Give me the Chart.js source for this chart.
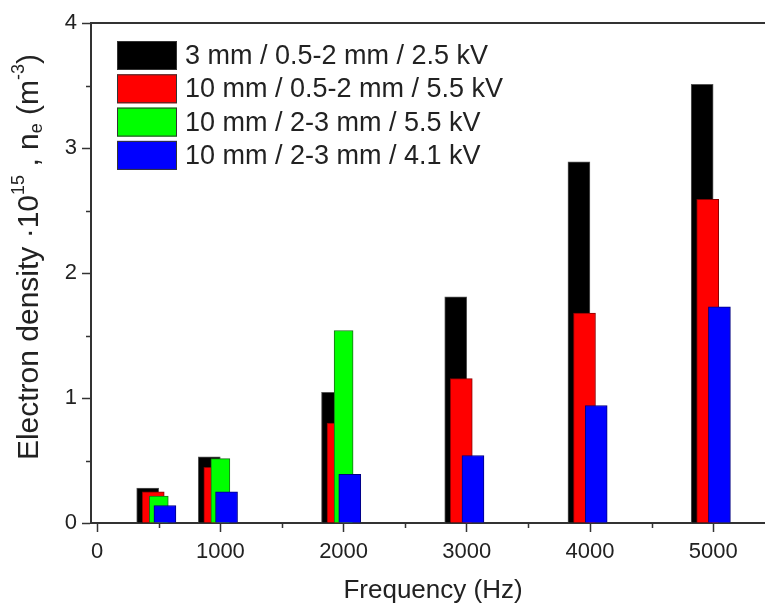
<!DOCTYPE html>
<html>
<head>
<meta charset="utf-8">
<script src="https://cdn.jsdelivr.net/npm/chart.js@4.4.1/dist/chart.umd.min.js"></script>
<style>
  html, body { margin: 0; padding: 0; background: #fff; }
  #wrap { width: 765px; height: 608px; }
</style>
</head>
<body>
<div id="wrap"><canvas id="densityChart" width="765" height="608"></canvas></div>
<script>
// data
var frequencies = [500, 1000, 2000, 3000, 4000, 5000];
var seriesLabels = [
    '3 mm / 0.5-2 mm / 2.5 kV',
    '10 mm / 0.5-2 mm / 5.5 kV',
    '10 mm / 2-3 mm / 5.5 kV',
    '10 mm / 2-3 mm / 4.1 kV'
];
var black3mm = [0.28, 0.53, 1.045, 1.81, 2.89, 3.51];
var red10mm = [0.25, 0.445, 0.80, 1.155, 1.68, 2.59];
var green10mm = [0.215, 0.515, 1.54]; // only measured at 500, 1000, 2000 Hz
var blue10mm = [0.14, 0.25, 0.39, 0.54, 0.94, 1.73];
var xTicks = [0, 1000, 2000, 3000, 4000, 5000];
var yTicks = [0, 1, 2, 3, 4];

var font = "'Liberation Sans', Arial, sans-serif";
var axisColor = '#333';
var textColor = '#222';

// bars of one frequency are shifted a little, like in the original plot
function toPoints(values, shift) {
    return values.map(function (v, i) {
        return { x: frequencies[i] + shift, y: v };
    });
}

function makeSet(label, values, shift, fill, edge, width, order) {
    return {
        label: label,
        data: toPoints(values, shift),
        backgroundColor: fill,
        borderColor: edge,
        borderWidth: 1,
        borderSkipped: 'bottom',
        barThickness: width,
        grouped: false,
        order: order
    };
}

// minor ticks, top frame line, legend and axis titles
var decorPlugin = {
    id: 'decor',
    afterDraw: function (chart) {
        var c = chart.ctx;
        var area = chart.chartArea;
        var xs = chart.scales.x;
        var ys = chart.scales.y;
        c.save();

        c.strokeStyle = axisColor;
        c.lineWidth = 2;
        c.beginPath();
        c.moveTo(area.left - 1, area.top);
        c.lineTo(area.right, area.top);
        c.stroke();

        c.lineWidth = 1.5;
        c.beginPath();
        for (var f = 500; f < xs.max; f += 1000) {
            var px = Math.round(xs.getPixelForValue(f)) + 0.5;
            c.moveTo(px, area.bottom);
            c.lineTo(px, area.bottom + 5);
        }
        for (var v = 0.5; v < ys.max; v += 1) {
            var py = Math.round(ys.getPixelForValue(v)) + 0.5;
            c.moveTo(area.left, py);
            c.lineTo(area.left - 5, py);
        }
        c.stroke();

        // legend
        var ds = chart.data.datasets;
        c.font = '27px ' + font;
        c.textAlign = 'left';
        c.textBaseline = 'middle';
        for (var i = 0; i < ds.length; i++) {
            var by = 41 + i * 33.3;
            c.fillStyle = ds[i].backgroundColor;
            c.fillRect(117, by, 60, 29);
            c.strokeStyle = '#333';
            c.lineWidth = 1;
            c.strokeRect(117.5, by + 0.5, 59, 28);
            c.fillStyle = textColor;
            c.fillText(ds[i].label, 185, by + 15.5);
        }

        // x title
        c.font = '26px ' + font;
        c.textAlign = 'center';
        c.fillText('Frequency (Hz)', 433, 591);

        // y title with super- and subscripts
        var parts = [
            { t: 'Electron density \u00b710', k: 'n' },
            { t: '15', k: 'sup' },
            { t: ' , n', k: 'n' },
            { t: 'e', k: 'sub' },
            { t: ' (m', k: 'n' },
            { t: '-3', k: 'sup' },
            { t: ')', k: 'n' }
        ];
        function partFont(k) { return (k === 'n' ? '30px ' : '18px ') + font; }
        var total = 0;
        parts.forEach(function (p) {
            c.font = partFont(p.k);
            p.w = c.measureText(p.t).width;
            total += p.w;
        });
        c.translate(30, 257);
        c.rotate(-Math.PI / 2);
        c.textAlign = 'left';
        var cx = -total / 2;
        parts.forEach(function (p) {
            c.font = partFont(p.k);
            var dy = p.k === 'sup' ? -11 : (p.k === 'sub' ? 7 : 0);
            c.fillText(p.t, cx, dy);
            cx += p.w;
        });
        c.restore();
    }
};

var ctx = document.getElementById('densityChart');
new Chart(ctx, {
    type: 'bar',
    data: {
        datasets: [
            makeSet(seriesLabels[0], black3mm, -90, '#000000', '#555555', 22, 4),
            makeSet(seriesLabels[1], red10mm, -45, '#ff0000', '#8a0000', 22, 3),
            makeSet(seriesLabels[2], green10mm, 0, '#00ff00', '#1a6e1a', 19, 2),
            makeSet(seriesLabels[3], blue10mm, 50, '#0000ff', '#000080', 22, 1)
        ]
    },
    options: {
        responsive: false,
        animation: false,
        layout: { padding: { top: 23, right: 0, bottom: 0, left: 0 } },
        plugins: {
            legend: { display: false },
            tooltip: { enabled: false }
        },
        scales: {
            x: {
                type: 'linear',
                min: -50,
                max: 5420,
                offset: false,
                afterFit: function (s) { s.height = 85; },
                afterBuildTicks: function (s) {
                    s.ticks = xTicks.map(function (v) { return { value: v }; });
                },
                grid: { offset: false, drawOnChartArea: false, drawTicks: true, tickLength: 9, tickColor: axisColor, tickWidth: 1.5 },
                border: { color: axisColor, width: 2 },
                ticks: {
                    font: { family: font, size: 22 },
                    color: textColor,
                    padding: 7,
                    maxRotation: 0,
                    autoSkip: false,
                    callback: function (v) { return String(v); }
                }
            },
            y: {
                min: 0,
                max: 4,
                afterFit: function (s) { s.width = 91; },
                afterBuildTicks: function (s) {
                    s.ticks = yTicks.map(function (v) { return { value: v }; });
                },
                grid: { offset: false, drawOnChartArea: false, drawTicks: true, tickLength: 9, tickColor: axisColor, tickWidth: 1.5 },
                border: { color: axisColor, width: 2 },
                ticks: {
                    font: { family: font, size: 22 },
                    color: textColor,
                    padding: 5,
                    callback: function (v) { return String(v); }
                }
            }
        }
    },
    plugins: [decorPlugin]
});
</script>
</body>
</html>
